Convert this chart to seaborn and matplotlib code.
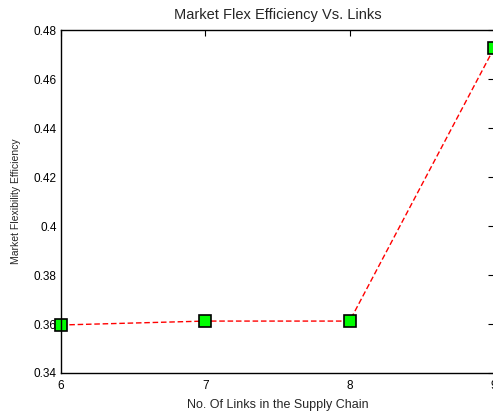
import matplotlib
matplotlib.use("Agg")
import matplotlib.pyplot as plt
import seaborn as sns
import pandas as pd

links = [6, 7, 8, 9]
efficiency = [0.3596, 0.3612, 0.3612, 0.4726]

sns.set_style("white")
plt.rcParams['font.family'] = ['Liberation Sans', 'DejaVu Sans']

df = pd.DataFrame({"links": links, "eff": efficiency})

fig = plt.figure(figsize=(4.93, 4.12), dpi=100)
ax = fig.add_axes([0.1237, 0.0947, 0.8783, 0.832])
sns.lineplot(data=df, x="links", y="eff", ax=ax, color="red", linestyle=(0, (4, 2)),
             linewidth=1.0, marker="s", markersize=8.5, markerfacecolor="#00ff00",
             markeredgecolor="black", markeredgewidth=1.2, clip_on=False)
ax.set_xlim(6, 9)
ax.set_ylim(0.34, 0.48)
ax.set_xticks([6, 7, 8, 9])
ax.set_yticks([0.34, 0.36, 0.38, 0.40, 0.42, 0.44, 0.46, 0.48])
ax.set_yticklabels(["0.34", "0.36", "0.38", "0.4", "0.42", "0.44", "0.46", "0.48"])
ax.tick_params(direction="in", length=4, width=0.8, labelsize=8.5, top=True, right=True,
               colors="black")
ax.tick_params(axis="x", pad=5)
ax.tick_params(axis="y", pad=3)
for s in ax.spines.values():
    s.set_color("black")
    s.set_linewidth(1.0)
ax.set_title("Market Flex Efficiency Vs. Links", fontsize=10.5, pad=8)
ax.set_xlabel("No. Of Links in the Supply Chain", fontsize=9, labelpad=5)
ax.set_ylabel("Market Flexibility Efficiency", fontsize=7.5, labelpad=9)
fig.savefig("out.png", dpi=100)
